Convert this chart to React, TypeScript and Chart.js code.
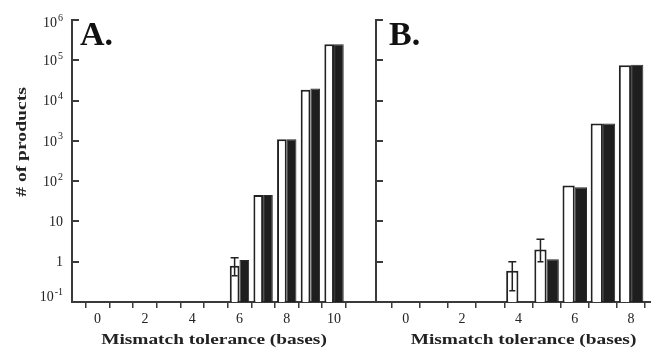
import React, { useEffect, useRef } from "react";
import { Chart, registerables } from "chart.js";

Chart.register(...registerables);

// ---------- data ----------
const leftCategories = [0, 1, 2, 3, 4, 5, 6, 7, 8, 9, 10];
const leftWhite: (number | null)[] = [null, null, null, null, null, null, 0.79, 45, 1100, 18500, 250000];
const leftBlack: (number | null)[] = [null, null, null, null, null, null, 1.1, 45, 1100, 20000, 250000];
const leftErrLow: (number | null)[] = [null, null, null, null, null, null, 0.45, null, null, null, null];
const leftErrHigh: (number | null)[] = [null, null, null, null, null, null, 1.25, null, null, null, null];

const rightCategories = [0, 1, 2, 3, 4, 5, 6, 7, 8, 9];
const rightWhite: (number | null)[] = [null, null, null, null, 0.6, 2.0, 78, 2700, 75000, null];
const rightBlack: (number | null)[] = [null, null, null, null, null, 1.15, 71, 2700, 78000, null];
const rightErrLow: (number | null)[] = [null, null, null, null, 0.19, 1.0, null, null, null, null];
const rightErrHigh: (number | null)[] = [null, null, null, null, 1.0, 3.6, null, null, null, null];

const yTickValues = [0.1, 1, 10, 100, 1000, 10000, 100000, 1000000];
const yTickBase = ["10", "1", "10", "10", "10", "10", "10", "10"];
const yTickExp = ["-1", "", "", "2", "3", "4", "5", "6"];

const xTitle = "Mismatch tolerance (bases)";
const yTitle = "# of products";

// ---------- style ----------
const SERIF = '"Liberation Serif", "DejaVu Serif", "Times New Roman", serif';
const INK = "#222";
const AXIS = "#3a3a3a";
const W = 651;
const H = 349;

function drawStretched(
  ctx: CanvasRenderingContext2D,
  text: string,
  x: number,
  y: number,
  font: string,
  sx: number,
  rotate: boolean
) {
  ctx.save();
  ctx.translate(x, y);
  if (rotate) ctx.rotate(-Math.PI / 2);
  ctx.scale(sx, 1);
  ctx.font = font;
  ctx.fillStyle = INK;
  ctx.textAlign = "center";
  ctx.textBaseline = "middle";
  ctx.fillText(text, 0, 0);
  ctx.restore();
}

type PanelOpts = {
  cats: number[];
  white: (number | null)[];
  black: (number | null)[];
  errLo: (number | null)[];
  errHi: (number | null)[];
  xMin: number;
  xMax: number;
  yAxisWidth: number;
  padRight: number;
  catPct: number;
  showYLabels: boolean;
  panelLabel: string;
  labelX: number;
  titleX: number;
};

function buildConfig(o: PanelOpts): any {
  const pts = (arr: (number | null)[]) =>
    o.cats.map((c, i) => ({ x: c, y: arr[i] })).filter((p) => p.y !== null);
  const whitePts = pts(o.white);
  const blackPts = pts(o.black);

  const overlay = {
    id: "overlay" + o.panelLabel,
    afterDraw(chart: any) {
      const ctx: CanvasRenderingContext2D = chart.ctx;
      const ys = chart.scales.y;
      const area = chart.chartArea;
      ctx.save();
      // inward y tick marks
      ctx.strokeStyle = AXIS;
      ctx.lineWidth = 2;
      yTickValues.forEach((v, i) => {
        if (i === 0) return;
        const py = Math.round(ys.getPixelForValue(v));
        ctx.beginPath();
        ctx.moveTo(area.left, py);
        ctx.lineTo(area.left + 7, py);
        ctx.stroke();
      });
      // error bars on white bars
      const meta = chart.getDatasetMeta(0);
      ctx.strokeStyle = INK;
      ctx.lineWidth = 1.5;
      o.cats.forEach((c, i) => {
        const lo = o.errLo[i];
        const hi = o.errHi[i];
        if (lo === null || hi === null) return;
        const j = whitePts.findIndex((p) => p.x === c);
        if (j < 0) return;
        const el = meta.data[j];
        const px = el.x;
        const pLo = ys.getPixelForValue(lo);
        const pHi = ys.getPixelForValue(hi);
        ctx.beginPath();
        ctx.moveTo(px, pLo);
        ctx.lineTo(px, pHi);
        ctx.moveTo(px - 4, pHi);
        ctx.lineTo(px + 4, pHi);
        ctx.moveTo(px - 3, pLo);
        ctx.lineTo(px + 3, pLo);
        ctx.stroke();
      });
      // y tick labels (left panel only)
      if (o.showYLabels) {
        const right = area.left - 9;
        yTickValues.forEach((v, i) => {
          let py = ys.getPixelForValue(v);
          if (i === 0) py -= 6;
          if (i === yTickValues.length - 1) py += 2;
          const base = yTickBase[i];
          const ex = yTickExp[i];
          ctx.fillStyle = INK;
          ctx.textBaseline = "middle";
          ctx.textAlign = "left";
          ctx.font = `14px ${SERIF}`;
          const wb = ctx.measureText(base).width;
          ctx.font = `10px ${SERIF}`;
          const we = ex ? ctx.measureText(ex).width + 1 : 0;
          const start = right - wb - we;
          ctx.font = `14px ${SERIF}`;
          ctx.fillText(base, start, py + 1);
          if (ex) {
            ctx.font = `10px ${SERIF}`;
            ctx.fillText(ex, start + wb + 1, py - 4);
          }
        });
        drawStretched(ctx, yTitle, 22, 142, `bold 14px ${SERIF}`, 1.4, true);
      }
      // x title
      drawStretched(ctx, xTitle, o.titleX, 340, `bold 15px ${SERIF}`, 1.29, false);
      // panel label
      ctx.fillStyle = "#111";
      ctx.font = `bold 34px ${SERIF}`;
      ctx.textAlign = "left";
      ctx.textBaseline = "alphabetic";
      ctx.fillText(o.panelLabel, o.labelX, 45);
      ctx.restore();
    },
  };

  return {
    type: "bar",
    data: {
      datasets: [
        {
          data: whitePts,
          backgroundColor: "#ffffff",
          borderColor: INK,
          borderWidth: 2,
          borderSkipped: "bottom",
          categoryPercentage: o.catPct,
          barPercentage: 1.0,
        },
        {
          data: blackPts,
          backgroundColor: "#1e1e1e",
          borderColor: "#2a2a2a",
          borderWidth: 1,
          borderSkipped: "bottom",
          categoryPercentage: o.catPct,
          barPercentage: 1.0,
        },
      ],
    },
    options: {
      animation: false,
      responsive: false,
      devicePixelRatio: 1,
      layout: { padding: { left: 0, right: o.padRight, top: 20, bottom: 0 } },
      plugins: { legend: { display: false }, tooltip: { enabled: false }, title: { display: false } },
      scales: {
        x: {
          type: "linear",
          min: o.xMin,
          max: o.xMax,
          afterBuildTicks: (s: any) => {
            s.ticks = o.cats.map((v) => ({ value: v }));
          },
          afterFit: (s: any) => {
            s.height = 47;
          },
          ticks: {
            autoSkip: false,
            maxRotation: 0,
            padding: 3,
            color: INK,
            font: { family: SERIF, size: 14 },
            callback: (v: any) => (Number(v) % 2 === 0 ? String(v) : ""),
          },
          grid: {
            display: true,
            drawOnChartArea: false,
            drawTicks: true,
            tickLength: 6,
            color: AXIS,
            lineWidth: 1.5,
          },
          border: { display: true, color: AXIS, width: 2 },
        },
        y: {
          type: "logarithmic",
          min: 0.1,
          max: 1000000,
          afterBuildTicks: (s: any) => {
            s.ticks = yTickValues.map((v) => ({ value: v }));
          },
          afterFit: (s: any) => {
            s.width = o.yAxisWidth;
          },
          ticks: { display: false },
          grid: { display: false },
          border: { display: true, color: AXIS, width: 2 },
        },
      },
    },
    plugins: [overlay],
  };
}

export default function App() {
  const leftRef = useRef<HTMLCanvasElement>(null);
  const rightRef = useRef<HTMLCanvasElement>(null);

  useEffect(() => {
    const c1 = new Chart(
      leftRef.current!,
      buildConfig({
        cats: leftCategories,
        white: leftWhite,
        black: leftBlack,
        errLo: leftErrLow,
        errHi: leftErrHigh,
        xMin: -0.5,
        xMax: 11.15,
        yAxisWidth: 72,
        padRight: 5,
        catPct: 0.82,
        showYLabels: true,
        panelLabel: "A.",
        labelX: 80,
        titleX: 214,
      })
    );
    const c2 = new Chart(
      rightRef.current!,
      buildConfig({
        cats: rightCategories,
        white: rightWhite,
        black: rightBlack,
        errLo: rightErrLow,
        errHi: rightErrHigh,
        xMin: -0.5,
        xMax: 9.5,
        yAxisWidth: 6,
        padRight: 11,
        catPct: 0.87,
        showYLabels: false,
        panelLabel: "B.",
        labelX: 19,
        titleX: 153.5,
      })
    );
    return () => {
      c1.destroy();
      c2.destroy();
    };
  }, []);

  return (
    <div
      style={{
        position: "fixed",
        left: 0,
        top: 0,
        width: W,
        height: H,
        overflow: "hidden",
        background: "#ffffff",
      }}
    >
      <canvas
        ref={leftRef}
        width={380}
        height={H}
        style={{ position: "absolute", left: 0, top: 0, width: 380, height: H }}
      />
      <canvas
        ref={rightRef}
        width={330}
        height={H}
        style={{ position: "absolute", left: 370, top: 0, width: 330, height: H }}
      />
    </div>
  );
}
